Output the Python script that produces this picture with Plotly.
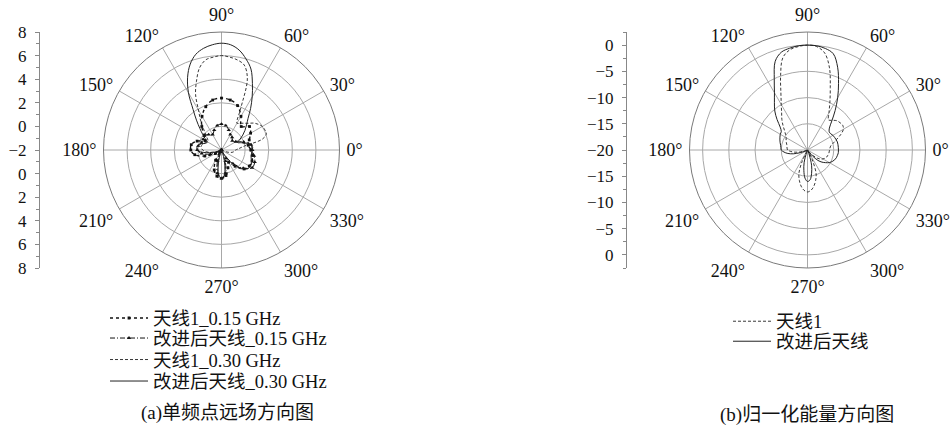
import plotly.graph_objects as go

# ---------------- data ----------------
ANG5 = list(range(0, 360, 5))
ANG10 = list(range(0, 360, 10))

# (a) single-frequency far field, radial values (centre = -2)
ANT1_015 = [0.5, 0.3, 0.5, 0.85, 1.1, 0.6, 1.3, 2.0, 2.3, 2.4,
            2.3, 1.9, 1.3, 0.6, -0.1, -0.4, 0.2, 0.6, 0.6, 0.3,
            -0.5, -1.4, -2.0, -1.8, -1.0, -0.2, 0.25, 0.4, 0.2, -0.4,
            -0.8, -0.2, 0.5, 0.72, 0.75, 0.65]
IMP_015 = [0.6, 0.55, 0.0, -0.6, -0.8, -0.6, -0.5, -0.2, 0.1, 0.2,
           0.1, -0.2, -0.5, -0.3, -0.1, -0.2, -0.2, 0.0, 0.05, -0.3,
           -1.0, -1.8, -2.0, -2.0, -1.8, -1.0, 0.0, 0.4, 0.0, -1.0,
           -1.2, -0.5, 0.4, 1.0, 1.0, 0.8]
ANT1_030 = [-0.8, -0.5, 0.0, 1.6, 2.05, 2.05, 2.0, 1.8, 1.55, 1.2,
            0.96, 0.77, 0.62, 1.8, 4.4, 5.45, 5.75, 5.9, 6.0, 5.9,
            5.75, 5.2, 4.2, 3.2, 1.9, 1.1, 0.4, -0.1, -0.4, -0.6,
            -0.6, -0.5, -0.4, -0.3, -0.25, -0.3, -0.4, -0.6, -0.9, -1.3,
            -1.7, -2.0, -2.0, -2.0, -2.0, -2.0, -2.0, -2.0, -2.0, -2.0,
            -1.6, -0.9, -0.2, 0.2, 0.35, 0.2, -0.2, -0.8, -1.4, -1.8,
            -2.0, -2.0, -2.0, -2.0, -2.0, -2.0, -2.0, -1.8, -1.5, -1.2,
            -1.0, -0.9]
IMP_030 = [0.6, 0.65, 0.5, 0.1, -0.2, -0.5, -0.2, 0.2, 0.6, 1.0,
           1.5, 2.3, 3.2, 4.2, 5.3, 6.0, 6.6, 6.95, 7.05, 6.95,
           6.75, 6.4, 5.75, 4.8, 3.6, 2.2, 1.3, 0.6, 0.1, -0.3,
           -0.6, -0.6, -0.4, -0.1, 0.05, 0.1, 0.05, -0.2, -0.7, -1.2,
           -1.6, -1.9, -2.0, -2.0, -2.0, -2.0, -2.0, -2.0, -2.0, -2.0,
           -1.8, -1.1, -0.3, 0.25, 0.4, 0.25, -0.3, -1.1, -1.7, -2.0,
           -1.6, -1.0, -0.4, 0.1, 0.5, 0.75, 0.8, 0.8, 0.7, 0.6,
           0.55, 0.6]

# (b) normalised pattern, dB (centre = -20)
NORM_ANT1 = [-15.8, -15.7, -15.5, -14.9, -14.1, -13.0, -12.1, -11.8, -11.9, -12.1,
             -12.6, -13.0, -11.8, -9.9, -7.3, -3.8, -1.2, -0.2, 0.0, -0.2,
             -0.6, -1.8, -5.0, -8.0, -10.0, -11.4, -12.4, -13.4, -14.3, -14.9,
             -15.3, -15.5, -15.7, -15.9, -16.0, -16.1, -16.2, -16.8, -17.6, -18.6,
             -19.5, -20.0, -20.0, -20.0, -20.0, -20.0, -20.0, -20.0, -20.0, -17.5,
             -15.2, -14.0, -13.0, -12.3, -12.0, -12.3, -13.0, -14.0, -15.2, -17.5,
             -19.5, -20.0, -19.5, -18.5, -17.6, -17.0, -16.6, -16.3, -16.1, -16.0,
             -15.9, -15.85]
NORM_IMP = [-14.1, -14.1, -14.1, -14.1, -14.2, -14.3, -14.4, -14.6, -14.6, -14.1,
            -12.8, -10.8, -8.5, -6.0, -3.2, -1.0, -0.35, -0.05, 0.0, -0.05,
            -0.3, -0.7, -2.0, -5.0, -7.4, -9.0, -10.3, -11.8, -13.2, -13.9,
            -14.0, -14.2, -14.4, -14.6, -14.8, -14.9, -15.0, -15.5, -16.2, -17.2,
            -18.5, -19.5, -20.0, -20.0, -20.0, -20.0, -20.0, -20.0, -20.0, -20.0,
            -19.5, -17.5, -16.0, -14.6, -14.0, -14.3, -15.5, -17.0, -19.0, -20.0,
            -20.0, -19.5, -18.5, -17.2, -16.4, -15.8, -15.2, -14.8, -14.5, -14.3,
            -14.2, -14.1]

ANG_TICKS = list(range(0, 360, 30))
ANG_LABELS = ["0°", "30°", "60°", "90°", "120°", "150°", "180°",
              "210°", "240°", "270°", "300°", "330°"]
LEFT_TICKS = [10, 8, 6, 4, 2, 0, -2, -4, -6, -8, -10]
LEFT_LABELS = ["8", "6", "4", "2", "0", "−2", "0", "2", "4", "6", "8"]
RIGHT_TICKS = [20, 15, 10, 5, 0, -5, -10, -15, -20]
RIGHT_LABELS = ["0", "−5", "−10", "−15", "−20", "−15", "−10", "−5", "0"]

LEFT_NAMES = ["天线1_0.15 GHz", "改进后天线_0.15 GHz", "天线1_0.30 GHz", "改进后天线_0.30 GHz"]
RIGHT_NAMES = ["天线1", "改进后天线"]
CAPTIONS = ["(a)单频点远场方向图", "(b)归一化能量方向图"]

# ---------------- layout helpers ----------------
W, H = 951, 425
FONT = "Liberation Serif, Noto Sans CJK SC, serif"
DOM_Y = [1 - 268 / H, 1 - 32 / H]
LEFT_DX = [(221.5 - 118) / W, (221.5 + 118) / W]
RIGHT_DX = [(807.5 - 118) / W, (807.5 + 118) / W]


def closed(theta, r):
    return list(theta) + [360], list(r) + [r[0]]


def polar_layer(dx, rng, rdt, adt_vals, gcol, top):
    ang = dict(rotation=0, direction="counterclockwise", tickmode="array",
               tickvals=adt_vals, showgrid=True, gridcolor=gcol, gridwidth=0.8)
    if top:
        ang.update(ticktext=ANG_LABELS, showticklabels=True, showline=True,
                   linecolor="#7a7a7a", linewidth=1, ticks="outside", ticklen=3,
                   tickcolor="rgba(0,0,0,0)",
                   tickfont=dict(family=FONT, size=18, color="#111"))
    else:
        ang.update(showticklabels=False, showline=False, ticks="")
    return dict(domain=dict(x=dx, y=DOM_Y),
                bgcolor="rgba(0,0,0,0)" if top else "white",
                radialaxis=dict(range=rng, tick0=rng[0], dtick=rdt, showgrid=True,
                                gridcolor=gcol, gridwidth=0.8, showline=False,
                                showticklabels=False, ticks=""),
                angularaxis=ang)


def legend_row(x_px, y_px):
    return dict(x=x_px / W, y=1 - y_px / H, xanchor="left", yanchor="middle",
                bgcolor="rgba(0,0,0,0)", itemwidth=38,
                font=dict(family=FONT, size=18.5, color="#111"))


fig = go.Figure()

# ---- (a) traces ----
t, r = closed(ANG10, ANT1_015)
fig.add_trace(go.Scatterpolar(theta=t, r=r, subplot="polar2", name=LEFT_NAMES[0],
                              mode="lines+markers", line=dict(color="#111", width=1.4, dash="dot", shape="spline"),
                              marker=dict(symbol="square", size=2.8, color="#111"), legend="legend"))
t, r = closed(ANG10, IMP_015)
fig.add_trace(go.Scatterpolar(theta=t, r=r, subplot="polar2", name=LEFT_NAMES[1],
                              mode="lines+markers", line=dict(color="#111", width=1.0, dash="5px,2px,1px,2px", shape="spline"),
                              marker=dict(symbol="triangle-up", size=3.8, color="#111"), legend="legend2"))
t, r = closed(ANG5, ANT1_030)
fig.add_trace(go.Scatterpolar(theta=t, r=r, subplot="polar2", name=LEFT_NAMES[2],
                              mode="lines", line=dict(color="#222", width=0.9, dash="3px,2px", shape="spline"),
                              legend="legend3"))
t, r = closed(ANG5, IMP_030)
fig.add_trace(go.Scatterpolar(theta=t, r=r, subplot="polar2", name=LEFT_NAMES[3],
                              mode="lines", line=dict(color="#222", width=1.0, shape="spline"),
                              legend="legend4"))

# ---- (b) traces ----
t, r = closed(ANG5, NORM_ANT1)
fig.add_trace(go.Scatterpolar(theta=t, r=r, subplot="polar4", name=RIGHT_NAMES[0],
                              mode="lines", line=dict(color="#222", width=0.9, dash="3px,2px", shape="spline"),
                              legend="legend5"))
t, r = closed(ANG5, NORM_IMP)
fig.add_trace(go.Scatterpolar(theta=t, r=r, subplot="polar4", name=RIGHT_NAMES[1],
                              mode="lines", line=dict(color="#222", width=1.0, shape="spline"),
                              legend="legend6"))

# dummy traces to show the side scales
fig.add_trace(go.Scatter(x=[0.5], y=[0], xaxis="x", yaxis="y", mode="markers",
                         marker=dict(opacity=0), showlegend=False, hoverinfo="skip"))
fig.add_trace(go.Scatter(x=[0.5], y=[0], xaxis="x2", yaxis="y2", mode="markers",
                         marker=dict(opacity=0), showlegend=False, hoverinfo="skip"))

side_font = dict(family=FONT, size=17, color="#111")
fig.update_layout(
    width=W, height=H, margin=dict(l=0, r=0, t=0, b=0, autoexpand=False),
    paper_bgcolor="white", plot_bgcolor="rgba(0,0,0,0)",
    font=dict(family=FONT, color="#111"),
    polar=polar_layer(LEFT_DX, [-2, 8], 1, list(range(0, 360, 15)), "#e2e2e2", False),
    polar2=polar_layer(LEFT_DX, [-2, 8], 2, ANG_TICKS, "#a8a8a8", True),
    polar3=polar_layer(RIGHT_DX, [-20, 2.5], 2.5, list(range(0, 360, 15)), "#e2e2e2", False),
    polar4=polar_layer(RIGHT_DX, [-20, 2.5], 5, ANG_TICKS, "#a8a8a8", True),
    xaxis=dict(domain=[40 / W, 41 / W], range=[0, 1], visible=False),
    yaxis=dict(domain=DOM_Y, anchor="x", range=[-10, 10], tickmode="array",
               tickvals=LEFT_TICKS, ticktext=LEFT_LABELS, ticks="outside", ticklen=4,
               tickcolor="#888", showline=True, linecolor="#888", linewidth=1,
               showgrid=False, zeroline=False, tickfont=side_font, ticklabelstandoff=5,
               automargin=False,
               minor=dict(tickmode="linear", tick0=-10, dtick=1, ticks="outside",
                          ticklen=3, tickcolor="#888", showgrid=False)),
    xaxis2=dict(domain=[627 / W, 628 / W], range=[0, 1], visible=False),
    yaxis2=dict(domain=DOM_Y, anchor="x2", range=[-22.5, 22.5], tickmode="array",
                tickvals=RIGHT_TICKS, ticktext=RIGHT_LABELS, ticks="outside", ticklen=4,
                tickcolor="#888", showline=True, linecolor="#888", linewidth=1,
                showgrid=False, zeroline=False, tickfont=side_font, ticklabelstandoff=5,
                automargin=False,
                minor=dict(tickmode="linear", tick0=-22.5, dtick=2.5, ticks="outside",
                           ticklen=3, tickcolor="#888", showgrid=False)),
    legend=legend_row(105, 318.5),
    legend2=legend_row(105, 338.5),
    legend3=legend_row(105, 360),
    legend4=legend_row(105, 381.5),
    legend5=legend_row(728, 321.7),
    legend6=legend_row(728, 341.7),
    annotations=[
        dict(text=CAPTIONS[0], x=227 / W, y=1 - 413 / H, xref="paper", yref="paper",
             showarrow=False, xanchor="center", yanchor="middle",
             font=dict(family=FONT, size=19, color="#111")),
        dict(text=CAPTIONS[1], x=807 / W, y=1 - 415 / H, xref="paper", yref="paper",
             showarrow=False, xanchor="center", yanchor="middle",
             font=dict(family=FONT, size=19, color="#111")),
    ],
    showlegend=True,
)

fig.write_html("out.html", config={"displayModeBar": False},
               post_script="document.body.style.margin='0px';document.body.style.overflow='hidden';")
